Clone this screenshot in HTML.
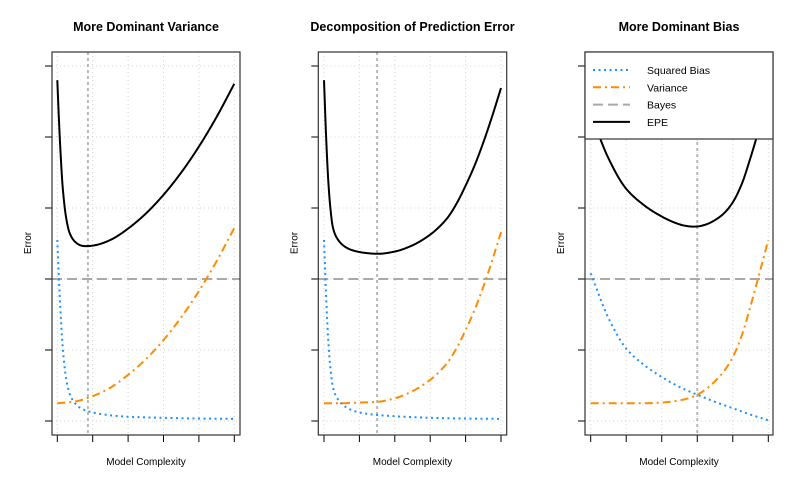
<!DOCTYPE html>
<html><head><meta charset="utf-8"><style>
body{margin:0;background:#fff;}
svg{display:block;font-family:"Liberation Sans",Arial,sans-serif;}
</style></head><body>
<svg id="chart" width="800" height="500" viewBox="0 0 800 500"></svg>
<script>
// ---- data (x in model complexity 0..1, y in error units; tick 0..5) ----
const xTicks = [0,0.2,0.4,0.6,0.8,1];
const yTicks = [0,1,2,3,4,5];
const titles = ["More Dominant Variance","Decomposition of Prediction Error","More Dominant Bias"];
const bayesLevel = [2,2,2];
const optimalX = [0.173,0.30,0.60];

const p1BiasX = [0,0.01,0.02,0.03,0.05,0.07,0.1,0.14,0.2,0.3,0.4,0.6,0.8,1.0];
const p1BiasY = [2.55,1.95,1.45,1.05,0.6,0.38,0.25,0.17,0.12,0.08,0.06,0.045,0.035,0.03];
const p1VarX = [0,0.1,0.2,0.3,0.4,0.5,0.6,0.7,0.8,0.9,1.0];
const p1VarY = [0.25,0.275,0.35,0.47,0.65,0.87,1.14,1.46,1.83,2.25,2.72];

const p2BiasX = [0,0.012,0.024,0.036,0.05,0.07,0.11,0.16,0.22,0.3,0.45,0.6,0.8,1.0];
const p2BiasY = [2.55,1.75,1.14,0.75,0.48,0.34,0.22,0.15,0.11,0.085,0.06,0.045,0.035,0.03];
const p2VarX = [0,0.1,0.2,0.3,0.4,0.5,0.6,0.65,0.7,0.75,0.8,0.85,0.9,0.95,1.0];
const p2VarY = [0.25,0.25,0.26,0.27,0.32,0.42,0.58,0.69,0.83,1.03,1.28,1.56,1.89,2.26,2.66];

const p3BiasX = [0,0.1,0.2,0.3,0.4,0.5,0.6,0.7,0.8,0.9,1.0];
const p3BiasY = [2.08,1.45,1.02,0.79,0.62,0.48,0.37,0.27,0.18,0.09,0.01];
const p3VarX = [0,0.1,0.2,0.3,0.4,0.5,0.55,0.6,0.65,0.7,0.75,0.8,0.85,0.9,0.95,1.0];
const p3VarY = [0.25,0.25,0.25,0.25,0.26,0.29,0.32,0.37,0.45,0.56,0.7,0.9,1.2,1.62,2.08,2.55];

const legendLabels = ["Squared Bias","Variance","Bayes","EPE"];

// ---- layout ----
const panels = [
  {bx0:52,bx1:240,tx0:57.3,tx1:234.3, bx:[p1BiasX,p1BiasY], vr:[p1VarX,p1VarY]},
  {bx0:318.3,bx1:506.7,tx0:324,tx1:501, bx:[p2BiasX,p2BiasY], vr:[p2VarX,p2VarY]},
  {bx0:585,bx1:773,tx0:590.7,tx1:768.3, bx:[p3BiasX,p3BiasY], vr:[p3VarX,p3VarY]}
];
const by0=52, by1=435, ty5=66, ty0=421;
const NS="http://www.w3.org/2000/svg";
const svg=document.getElementById('chart');
function mk(tag,attrs,parent){const e=document.createElementNS(NS,tag);for(const k in attrs)e.setAttribute(k,attrs[k]);(parent||svg).appendChild(e);return e;}

function interp(xs,ys){ // monotone cubic
  const n=xs.length,d=[],m=[];
  for(let i=0;i<n-1;i++)d.push((ys[i+1]-ys[i])/(xs[i+1]-xs[i]));
  m[0]=d[0];m[n-1]=d[n-2];
  for(let i=1;i<n-1;i++){
    if(d[i-1]*d[i]<=0){m[i]=0;continue;}
    const h0=xs[i]-xs[i-1],h1=xs[i+1]-xs[i];
    const w1=2*h1+h0,w2=h1+2*h0;
    m[i]=(w1+w2)/(w1/d[i-1]+w2/d[i]);
  }
  return function(x){
    let i=0;while(i<n-2&&x>xs[i+1])i++;
    const h=xs[i+1]-xs[i],t=(x-xs[i])/h,t2=t*t,t3=t2*t;
    return (2*t3-3*t2+1)*ys[i]+(t3-2*t2+t)*h*m[i]+(-2*t3+3*t2)*ys[i+1]+(t3-t2)*h*m[i+1];
  };
}

panels.forEach((p,pi)=>{
  const g=mk('g',{});
  
  
  const sx=x=>p.tx0+x*(p.tx1-p.tx0);
  const sy=y=>ty0-(y/5)*(ty0-ty5);
  const cid='clip'+pi;
  const cp=mk('clipPath',{id:cid},g);mk('rect',{x:p.bx0,y:by0,width:p.bx1-p.bx0,height:by1-by0},cp);
  xTicks.forEach(t=>{const l=mk('line',{x1:sx(t),x2:sx(t),y1:by0,y2:by1,stroke:'#d3d3d3','stroke-width':1,'stroke-dasharray':'1 3'},g);
    });
  yTicks.forEach(t=>{const l=mk('line',{x1:p.bx0,x2:p.bx1,y1:sy(t),y2:sy(t),stroke:'#d3d3d3','stroke-width':1,'stroke-dasharray':'1 3'},g);
    });
  xTicks.forEach(t=>{const l=mk('line',{x1:sx(t),x2:sx(t),y1:by1,y2:by1+7,stroke:'#000','stroke-width':1},g);
    });
  yTicks.forEach(t=>{const l=mk('line',{x1:p.bx0-7,x2:p.bx0,y1:sy(t),y2:sy(t),stroke:'#000','stroke-width':1},g);
    });
  const fb=interp(p.bx[0],p.bx[1]), fv=interp(p.vr[0],p.vr[1]);
  const N=400; let db='',dv='',de='';
  for(let i=0;i<=N;i++){const x=i/N,b=fb(x),v=fv(x),e=b+v+bayesLevel[pi];
    const c=(i?'L':'M');db+=c+sx(x).toFixed(2)+','+sy(b).toFixed(2);dv+=c+sx(x).toFixed(2)+','+sy(v).toFixed(2);de+=c+sx(x).toFixed(2)+','+sy(e).toFixed(2);}
  const cg=mk('g',{'clip-path':'url(#'+cid+')'},g);
  const vl=mk('line',{x1:sx(optimalX[pi]),x2:sx(optimalX[pi]),y1:by0,y2:by1,stroke:'#b8b8b8','stroke-width':2,'stroke-dasharray':'3 3'},cg);
  
  const bl=mk('line',{x1:p.bx0,x2:p.bx1,y1:sy(bayesLevel[pi]),y2:sy(bayesLevel[pi]),stroke:'#a9a9a9','stroke-width':2,'stroke-dasharray':'10 5'},cg);
  
  const vp=mk('path',{d:dv,fill:'none',stroke:'#FF8C00','stroke-width':2,'stroke-dasharray':'8 4 2 4'},cg);
  
  const bp=mk('path',{d:db,fill:'none',stroke:'#1E90FF','stroke-width':2,'stroke-dasharray':'2 3.5'},cg);
  
  const ep=mk('path',{d:de,fill:'none',stroke:'#000','stroke-width':2},cg);
  
  const bx=mk('rect',{x:p.bx0,y:by0,width:p.bx1-p.bx0,height:by1-by0,fill:'none',stroke:'#333','stroke-width':1.2},g);
  
  const cx=(p.bx0+p.bx1)/2;
  const tt=mk('text',{x:cx,y:31,'text-anchor':'middle','font-size':12.5,'font-weight':'bold'},g);tt.textContent=titles[pi];
  
  const xl=mk('text',{x:cx,y:465,'text-anchor':'middle','font-size':10},g);xl.textContent='Model Complexity';
  
  const yl=mk('text',{x:0,y:0,'text-anchor':'middle','font-size':10,transform:'translate('+(p.bx0-21)+',243) rotate(-90)'},g);yl.textContent='Error';
  

  if(pi===2){
    const lg=mk('g',{},g);
    
    mk('rect',{x:p.bx0,y:by0,width:p.bx1-p.bx0,height:87,fill:'#fff',stroke:'#333','stroke-width':1.2},lg);
    const styles=[{s:'#1E90FF',d:'2 3.5'},{s:'#FF8C00',d:'8 4 2 4'},{s:'#a9a9a9',d:'10 5'},{s:'#000',d:''}];
    legendLabels.forEach((lab,i)=>{
      const yy=70+i*17.3;
      const e=mk('g',{},lg);
      
      const a={x1:593,x2:630,y1:yy,y2:yy,stroke:styles[i].s,'stroke-width':2};
      if(styles[i].d)a['stroke-dasharray']=styles[i].d;
      mk('line',a,e);
      const t=mk('text',{x:647,y:yy+4,'font-size':10.5},e);t.textContent=lab;
    });
  }
});
</script>
</body></html>
